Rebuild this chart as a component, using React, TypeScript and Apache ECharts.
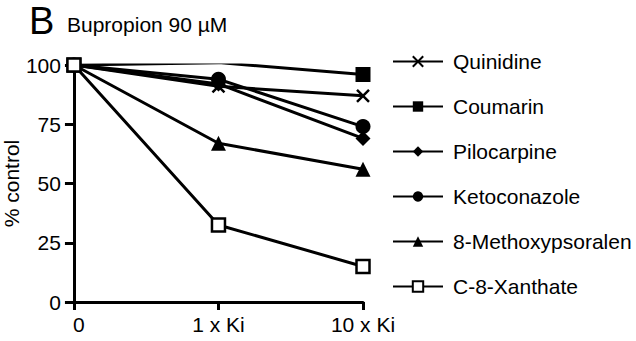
import React, { useEffect, useRef } from "react";
import * as echarts from "echarts";

const categories = ["0", "1 x Ki", "10 x Ki"];
const quinidine = [100, 91, 87];
const coumarin = [100, 101, 96];
const pilocarpine = [100, 92, 69];
const ketoconazole = [100, 94, 74];
const methoxypsoralen = [100, 67, 56];
const xanthate = [100, 32.5, 15];
const yTicks = [0, 25, 50, 75, 100];

const FONT = "Arial, 'Liberation Sans', sans-serif";
const crossPath = "path://M0,0L10,10M0,10L10,0";

export default function App() {
  const ref = useRef<HTMLDivElement>(null);
  useEffect(() => {
    document.body.style.margin = "0";
    if (!ref.current) return;
    const chart = echarts.init(ref.current, undefined, { renderer: "svg" });
    const base = (name: string, data: number[], symbol: string, size: number, extra: any = {}) => ({
      name,
      type: "line",
      data,
      symbol,
      symbolSize: size,
      lineStyle: { color: "#000", width: 3 },
      itemStyle: { color: "#000", borderColor: "#000", borderWidth: 0, ...extra },
      emphasis: { disabled: true },
    });
    chart.setOption({
      animation: false,
      textStyle: { fontFamily: FONT },
      graphic: [
        { type: "text", left: 29, top: 2, style: { text: "B", fontSize: 38, fontFamily: FONT, fill: "#000" } },
        { type: "text", left: 67, top: 14, style: { text: "Bupropion 90 µM", fontSize: 21, fontFamily: FONT, fill: "#000" } },
      ],
      grid: { left: 63, right: 273, top: 65, bottom: 39, containLabel: false },
      legend: {
        orient: "vertical",
        left: 387,
        top: 46,
        itemWidth: 50,
        itemHeight: 13,
        itemGap: 24,
        textStyle: { fontSize: 21, color: "#000", fontFamily: FONT, padding: [0, 0, 0, 5] },
        data: ["Quinidine", "Coumarin", "Pilocarpine", "Ketoconazole", "8-Methoxypsoralen", "C-8-Xanthate"],
      },
      xAxis: {
        type: "category",
        data: categories,
        boundaryGap: false,
        axisLine: { lineStyle: { color: "#000", width: 3 } },
        axisTick: { show: true, alignWithLabel: true, length: 8, lineStyle: { color: "#000", width: 3 } },
        axisLabel: {
          fontSize: 21,
          color: "#000",
          margin: 12,
          fontFamily: FONT,
          formatter: (v: string, i: number) => (i === 0 ? "{z|" + v + "}" : v),
          rich: { z: { fontSize: 21, color: "#000", fontFamily: FONT, padding: [0, 0, 0, 10] } },
        },
        splitLine: { show: false },
      },
      yAxis: {
        type: "value",
        min: yTicks[0],
        max: yTicks[yTicks.length - 1],
        interval: 25,
        name: "% control",
        nameLocation: "middle",
        nameGap: 43,
        nameTextStyle: { fontSize: 21, color: "#000", fontFamily: FONT },
        axisLine: { show: true, lineStyle: { color: "#000", width: 3 } },
        axisTick: { show: true, length: 9, lineStyle: { color: "#000", width: 3 } },
        axisLabel: { fontSize: 21, color: "#000", margin: 13, fontFamily: FONT },
        splitLine: { show: false },
      },
      series: [
        base("Quinidine", quinidine, crossPath, 12, { color: "#000", borderColor: "#000", borderWidth: 2.5 }),
        base("Coumarin", coumarin, "rect", 15),
        base("Pilocarpine", pilocarpine, "diamond", 15),
        base("Ketoconazole", ketoconazole, "circle", 15),
        base("8-Methoxypsoralen", methoxypsoralen, "triangle", 15),
        base("C-8-Xanthate", xanthate, "rect", 13, { color: "#fff", borderColor: "#000", borderWidth: 2.5 }),
      ],
    });
    return () => chart.dispose();
  }, []);
  return <div ref={ref} style={{ width: 636, height: 341 }} />;
}
